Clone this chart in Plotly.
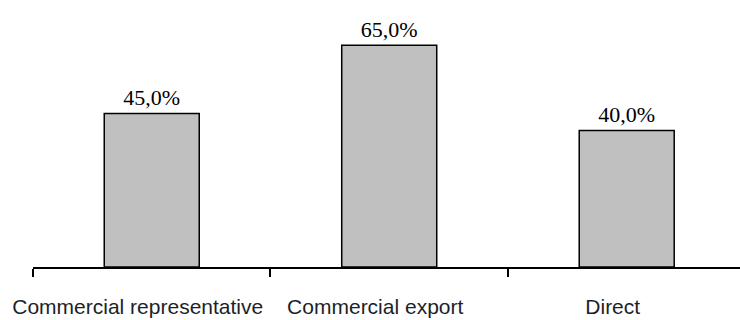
import plotly.graph_objects as go

# Share of sales by distribution channel (%)
channels = ["Commercial representative", "Commercial export", "Direct"]
shares = [45.0, 65.0, 40.0]

fig = go.Figure(
    go.Bar(
        x=channels,
        y=shares,
        width=0.4,
        marker=dict(color="#c0c0c0", line=dict(color="#000000", width=1.5)),
        texttemplate="%{y:.1f}%",
        textposition="outside",
        textfont=dict(family="Liberation Serif, Times New Roman, serif", size=22, color="#000000"),
        cliponaxis=False,
        hoverinfo="skip",
    )
)

fig.update_layout(
    width=740,
    height=320,
    margin=dict(l=33, r=0, t=11, b=53, autoexpand=False),
    paper_bgcolor="#ffffff",
    plot_bgcolor="#ffffff",
    separators=", ",
    showlegend=False,
    bargap=0.6,
)

fig.update_xaxes(
    type="category",
    range=[-0.5, 2.477],
    automargin=False,
    showline=True,
    linecolor="#000000",
    linewidth=1.5,
    ticks="outside",
    tickson="boundaries",
    ticklen=8,
    tickwidth=1.5,
    tickcolor="#000000",
    tickangle=0,
    ticklabelshift=-14,
    ticklabelstandoff=20,
    tickfont=dict(family="Liberation Sans, Arial, sans-serif", size=21, color="#1c1f2a"),
    showgrid=False,
    zeroline=False,
)

fig.update_yaxes(
    range=[0, 75],
    visible=False,
    showgrid=False,
    zeroline=False,
)

fig.write_html("out.html")
